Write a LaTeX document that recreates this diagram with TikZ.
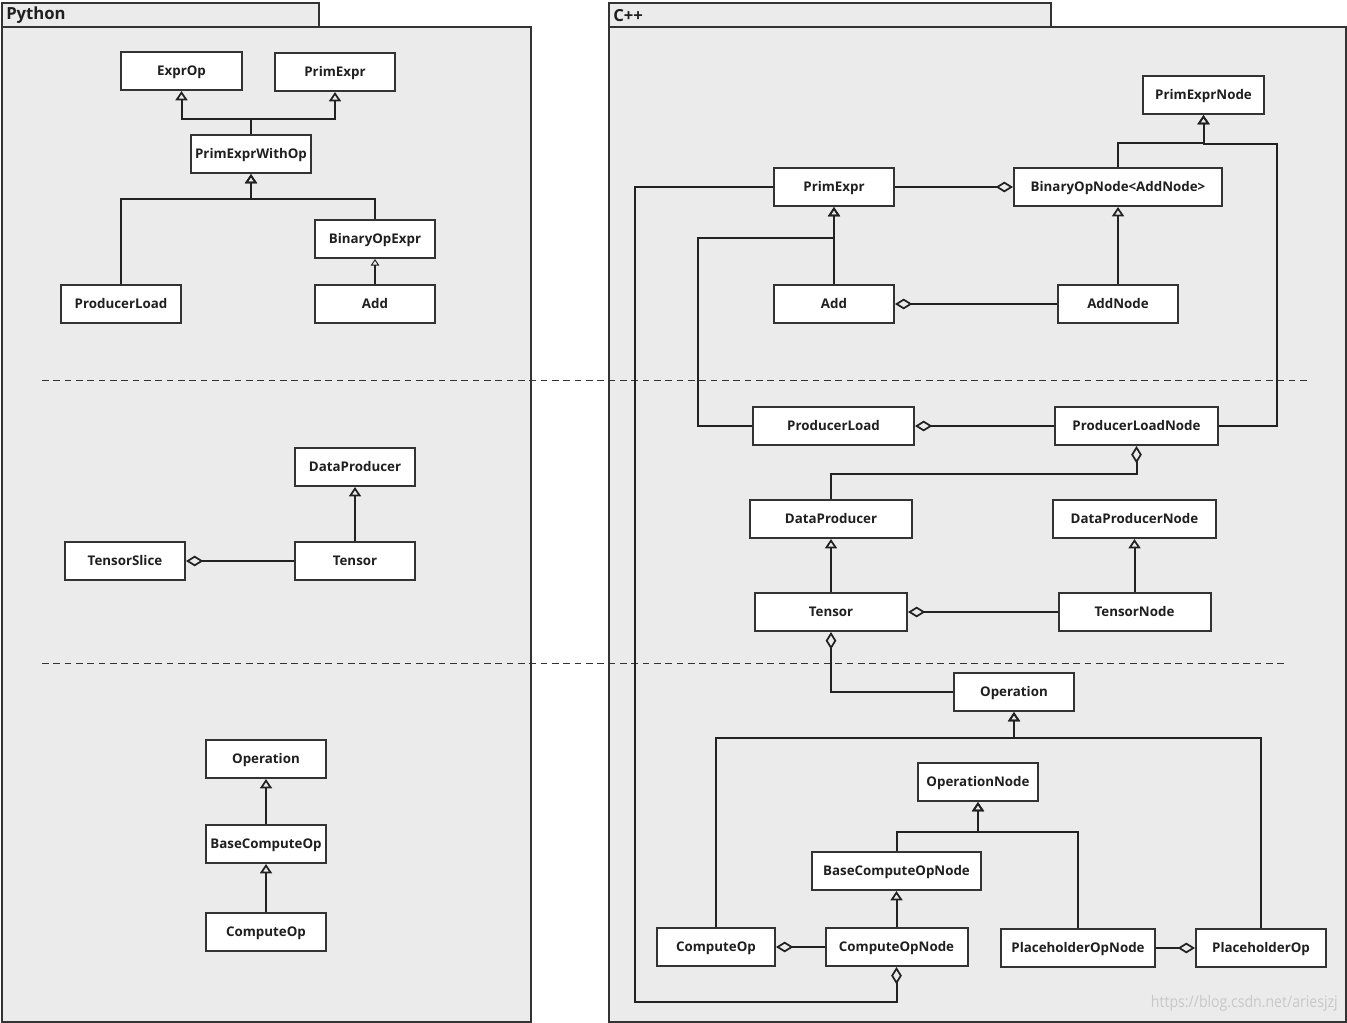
\documentclass[tikz,border=0pt]{standalone}
\usepackage{fontspec}
\setmainfont{Open Sans}
\usetikzlibrary{arrows.meta}
\definecolor{pkgbg}{RGB}{235,235,235}
\definecolor{linec}{RGB}{34,34,34}
\definecolor{boxc}{RGB}{51,51,51}
\definecolor{wmark}{RGB}{200,200,200}
\tikzset{
  cls/.style={draw=boxc, fill=white, line width=1.5pt, minimum height=28.5pt, inner sep=0pt,
    text height=9pt, text depth=1.8pt,
    font=\fontsize{10}{12}\selectfont\bfseries, text=black!88},
  bw/.style={minimum width=#1*0.75pt},
  conn/.style={draw=linec, line width=1.5pt},
  inh/.style={conn, -{Triangle[open, length=7pt, width=9pt, line width=1.3pt]}},
  inhthin/.style={draw=linec, line width=0.8pt, -{Triangle[open, length=5pt, width=6.5pt, line width=0.7pt]}},
  agg/.style={conn, -{Diamond[open, length=13pt, width=8pt, line width=1.3pt]}},
  pkg/.style={draw=boxc, fill=pkgbg, line width=0.9pt},
  sep/.style={draw=boxc, line width=0.75pt, dash pattern=on 5pt off 3.5pt},
}
\begin{document}
\begin{tikzpicture}[x=0.75pt, y=-0.75pt]
\useasboundingbox (0,0) rectangle (1347,1023);
% packages
\draw[pkg] (2,3) rectangle (319,27);
\draw[pkg] (2,27) rectangle (531,1022);
\node[anchor=west, font=\fontsize{12.5}{14}\selectfont\bfseries, inner sep=0pt, text=black!88] (tpy) at (6,15.5) {Python};
\draw[pkg] (609,3) rectangle (1051,27);
\draw[pkg] (609,27) rectangle (1346,1022);
\node[anchor=west, font=\fontsize{12.5}{14}\selectfont\bfseries, inner sep=0pt, text=black!88] (tcpp) at (613,15.5) {C++};
% separators
\draw[sep] (42,381) -- (1308,381);
\draw[sep] (42,663) -- (1288,663);

% ---------- Python ----------
\node[cls, bw=121] (pexprop) at (181.5,71) {ExprOp};
\node[cls, bw=120] (pprim) at (335,72) {PrimExpr};
\node[cls, bw=120] (ppewo) at (251,154) {PrimExprWithOp};
\node[cls, bw=120] (pboe) at (375,239) {BinaryOpExpr};
\node[cls, bw=120] (ppload) at (121,304) {ProducerLoad};
\node[cls, bw=120] (padd) at (375,304) {Add};
\node[cls, bw=120] (pdp) at (355,467) {DataProducer};
\node[cls, bw=120] (pts) at (125,561) {TensorSlice};
\node[cls, bw=120] (pten) at (355,561) {Tensor};
\node[cls, bw=120] (pop) at (266,759) {Operation};
\node[cls, bw=120] (pbco) at (266,844) {BaseComputeOp};
\node[cls, bw=120] (pco) at (266,932) {ComputeOp};

\draw[inh] (ppewo.north) -- ++(0,-15) -| (pexprop.south);
\draw[inh] (ppewo.north) -- ++(0,-15) -| (pprim.south);
\draw[inh] (ppload.north) -- ++(0,-85) -| (ppewo.south);
\draw[inh] (pboe.north) -- ++(0,-20) -| (ppewo.south);
\draw[inhthin] (padd.north) -- (pboe.south);
\draw[inh] (pten.north) -- (pdp.south);
\draw[agg] (pten.west) -- (pts.east);
\draw[inh] (pbco.north) -- (pop.south);
\draw[inh] (pco.north) -- (pbco.south);

% ---------- C++ ----------
\node[cls, bw=121] (cpen) at (1203.5,95) {PrimExprNode};
\node[cls, bw=120] (cpe) at (834,187) {PrimExpr};
\node[cls, bw=208] (cbon) at (1118,187) {BinaryOpNode<AddNode>};
\node[cls, bw=120] (cadd) at (834,304) {Add};
\node[cls, bw=120] (can) at (1118,304) {AddNode};
\node[cls, bw=161] (cpl) at (833.5,426) {ProducerLoad};
\node[cls, bw=163] (cpln) at (1136.5,426) {ProducerLoadNode};
\node[cls, bw=162] (cdp) at (831,519) {DataProducer};
\node[cls, bw=163] (cdpn) at (1134.5,519) {DataProducerNode};
\node[cls, bw=152] (cten) at (831,612) {Tensor};
\node[cls, bw=152] (ctn) at (1134.5,612) {TensorNode};
\node[cls, bw=120] (cop) at (1014,692) {Operation};
\node[cls, bw=120] (con) at (978,782) {OperationNode};
\node[cls, bw=169] (cbcn) at (896.5,871) {BaseComputeOpNode};
\node[cls, bw=118] (cco) at (716,947) {ComputeOp};
\node[cls, bw=142] (ccon) at (896.5,947) {ComputeOpNode};
\node[cls, bw=154] (cpon) at (1078,948) {PlaceholderOpNode};
\node[cls, bw=130] (cpo) at (1261,948) {PlaceholderOp};

\draw[agg] (cpe.west) -- ++(-138,0) -- ++(0,815) -| (ccon.south);
\draw[agg] (cpe.east) -- (cbon.west);
\draw[inh] (cbon.north) -- ++(0,-24) -| (cpen.south);
\draw[inh] (cpln.east) -- ++(58,0) -- ++(0,-282) -| (cpen.south);
\draw[inh] (cadd.north) -- (cpe.south);
\draw[inh] (cpl.west) -- ++(-54,0) -- ++(0,-188) -| (cpe.south);
\draw[agg] (can.west) -- (cadd.east);
\draw[inh] (can.north) -- (cbon.south);
\draw[agg] (cpln.west) -- (cpl.east);
\draw[agg] (cdp.north) -- ++(0,-25) -| (cpln.south);
\draw[inh] (cten.north) -- (cdp.south);
\draw[inh] (ctn.north) -- (cdpn.south);
\draw[agg] (ctn.west) -- (cten.east);
\draw[agg] (cop.west) -| (cten.south);
\draw[inh] (cco.north) -- ++(0,-189) -| (cop.south);
\draw[inh] (cpo.north) -- ++(0,-190) -| (cop.south);
\draw[inh] (cbcn.north) -- ++(0,-19) -| (con.south);
\draw[inh] (cpon.north) -- ++(0,-96) -| (con.south);
\draw[inh] (ccon.north) -- (cbcn.south);
\draw[agg] (ccon.west) -- (cco.east);
\draw[agg] (cpon.east) -- (cpo.west);

% watermark
\node[anchor=east, text=wmark, font=\fontsize{12}{14}\selectfont, inner sep=0pt] (wm) at (1338,1003) {\scalebox{0.88}[1]{https://blog.csdn.net/ariesjzj}};
\end{tikzpicture}
\end{document}
